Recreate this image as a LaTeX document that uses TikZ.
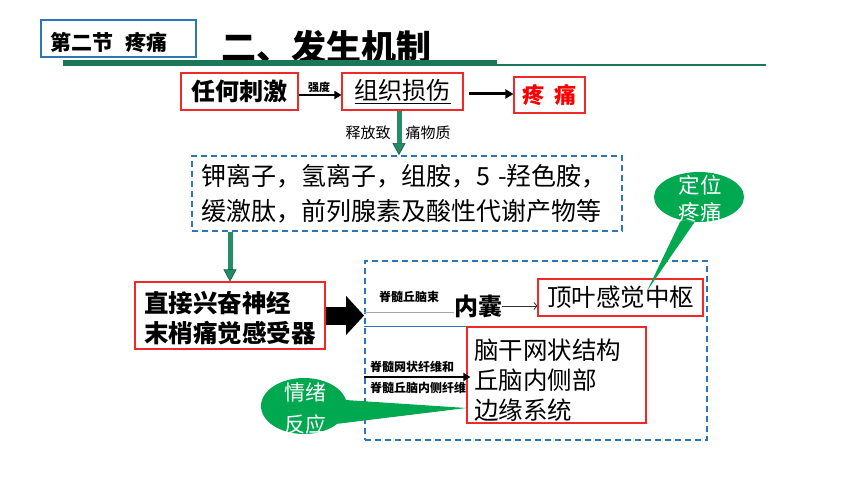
\documentclass[tikz,border=0pt]{standalone}
\usepackage{fontspec}
\setmainfont{Noto Sans CJK SC}
\usetikzlibrary{arrows.meta,shapes.geometric,calc}
\definecolor{boxred}{RGB}{240,40,40}
\definecolor{dblue}{RGB}{46,117,182}
\definecolor{barg}{RGB}{28,118,88}
\definecolor{arrg}{RGB}{35,140,105}
\definecolor{arrgd}{RGB}{20,85,65}
\definecolor{ellg}{RGB}{0,168,80}
\begin{document}
\begin{tikzpicture}[x=1pt,y=-1pt,
  redbox/.style={draw=boxred,line width=1.1pt,inner sep=0pt},
  dashbox/.style={draw=dblue,line width=1.8pt,dash pattern=on 6pt off 4pt,inner sep=0pt},
  hdrbox/.style={draw=dblue,line width=1.2pt,inner sep=0pt},
  garrow/.style={draw=arrg,line width=5pt,-{Triangle[length=12pt,width=13pt,fill=arrg,color=arrgd,line width=0.6pt]}},
  blackarrow/.style={draw=black,line width=2pt,-{Triangle[length=7pt,width=8pt]}},
  thickarrow/.style={draw=black,line width=3pt,-{Triangle[length=8pt,width=9pt]}},
  bigarrow/.style={draw=black,line width=18pt,-{Triangle[length=18pt,width=38pt]}},
  thinlabel/.style={font=\bfseries\fontsize{12}{12}\selectfont,inner sep=0pt},
  gell/.style={ellipse,fill=ellg,inner sep=0pt},
  elltext/.style={text=white,align=center,inner sep=0pt},
]
\useasboundingbox (0,0) rectangle (860,484);
\fill[white] (0,0) rectangle (860,484);

% header
\node[hdrbox,minimum width=155pt,minimum height=37pt] (hdr) at (118.5,38.5) {};
\node[anchor=west,inner sep=0pt,font=\bfseries\fontsize{21}{21}\selectfont] (hdrtext) at (50,42) {第二节\hspace{12pt}疼痛};
\node[anchor=west,inner sep=0pt,font=\bfseries\fontsize{35}{35}\selectfont] (title) at (221,47) {二、发生机制};
\fill[barg] (63,60) rectangle (497,66);
\fill[barg] (497,64.5) rectangle (766,66.5);

% row 1
\node[redbox,minimum width=117pt,minimum height=37pt,font=\bfseries\fontsize{24}{24}\selectfont] (A) at (239.5,91.5) {任何刺激};
\node[redbox,minimum width=121pt,minimum height=37pt,font=\fontsize{24}{24}\selectfont] (B) at (402.5,91.5) {\underline{组织损伤}};
\node[redbox,minimum width=71pt,minimum height=36pt,font=\bfseries\fontsize{22}{22}\selectfont,text=red] (C) at (549.5,95) {疼\hspace{10pt}痛};
\draw[blackarrow] ([yshift=-3.5pt]A.east) -- ([yshift=-3.5pt]A.east -| B.west);
\node[font=\bfseries\fontsize{11}{11}\selectfont,inner sep=0pt] (qd) at (319,87) {强度};
\draw[thickarrow,shorten <=5pt] ([yshift=-2.5pt]B.east) -- ([yshift=-2.5pt]B.east -| C.west);

% substances
\node[dashbox,minimum width=430pt,minimum height=75pt,text width=412pt,align=left,font=\fontsize{25}{35}\selectfont] (D) at (407,193.5) {钾离子，氢离子，组胺，5~-羟色胺，\\缓激肽，前列腺素及酸性代谢产物等};
\node[font=\fontsize{15}{15}\selectfont,inner sep=0pt] (rel) at (398,133) {释放致\hspace{15pt}痛物质};
\draw[garrow] ([xshift=-3.5pt]B.south) -- ([xshift=-3.5pt]B.south |- D.north);

% receptor
\node[redbox,minimum width=190pt,minimum height=67pt] (E) at (230,315.5) {};
\node[align=left,font=\bfseries\fontsize{24.5}{30}\selectfont,inner sep=0pt] (Etext) at (230,318) {直接兴奋神经\\末梢痛觉感受器};
\draw[garrow] (D.south -| E.north) -- (E.north);

% pathways box
\node[dashbox,minimum width=342pt,minimum height=179pt] (F) at (536,350.5) {};
\draw[bigarrow] (E.east) -- (E.east -| F.west);

\node[font=\bfseries\fontsize{24}{24}\selectfont,inner sep=0pt] (G) at (478,306) {内囊};
\draw[gray!70,line width=1pt] (F.west |- 0,312) -- (G.west |- 0,312);
\node[thinlabel] (l1) at (409,297) {脊髓丘脑束};
\node[redbox,minimum width=165pt,minimum height=37pt,font=\fontsize{24.5}{24.5}\selectfont] (H) at (620.5,297.5) {顶叶感觉中枢};
\draw[black!80,line width=0.8pt,-{Straight Barb[length=3pt,width=7pt]}] (G.east) -- (G.east -| H.west);

\node[redbox,minimum width=179pt,minimum height=96pt] (I) at (556.5,375) {};
\node[align=left,anchor=west,font=\fontsize{24.5}{30}\selectfont,inner sep=0pt] (Itext) at (474,380) {脑干网状结构\\丘脑内侧部\\边缘系统};
\draw[dblue,line width=1pt] (F.west |- I.north) -- (I.north west);
\draw[blackarrow,shorten >=-4pt] (F.west |- 0,377) -- (I.west |- 0,377);
\node[thinlabel] (l2) at (412,367) {脊髓网状纤维和};
\node[thinlabel] (l3) at (418,388) {脊髓丘脑内侧纤维};

% callouts
\node[gell,minimum width=86pt,minimum height=56pt] (J) at (304,406) {};
\coordinate (jtip) at (I.west |- 0,408);
\fill[ellg] (J.8) -- (jtip) -- (J.-28) -- cycle;
\node[elltext,font=\fontsize{21}{32}\selectfont] (Jtext) at (305,409) {情绪\\反应};

\node[gell,minimum width=90pt,minimum height=50pt] (K) at (699,197) {};
\coordinate (ktip) at (647,291);
\fill[ellg] (K.-100) -- (ktip) -- (K.-128) -- cycle;
\node[elltext,font=\fontsize{21.5}{27}\selectfont] (Ktext) at (700,198.5) {定位\\疼痛};
\end{tikzpicture}
\end{document}
